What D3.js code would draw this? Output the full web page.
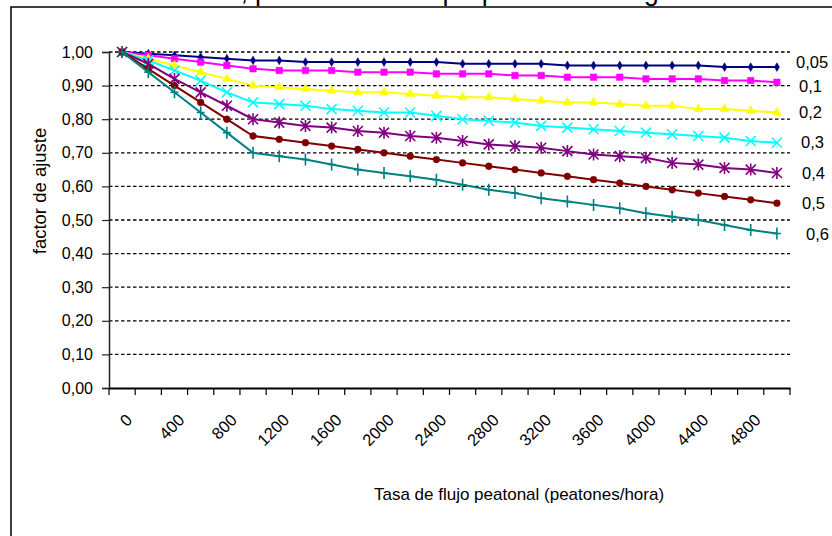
<!DOCTYPE html>
<html><head><meta charset="utf-8">
<script src="https://cdn.jsdelivr.net/npm/d3@7"></script>
<style>body{margin:0;background:#fff} text{font-family:Arial,"Liberation Sans",sans-serif;fill:#000}</style>
</head><body><svg id="c" width="832" height="536"></svg>
<script>
// ---- data ----
const categories = [0,200,400,600,800,1000,1200,1400,1600,1800,2000,2200,2400,2600,2800,3000,3200,3400,3600,3800,4000,4200,4400,4600,4800,5000];
const xTickLabels = ["0","400","800","1200","1600","2000","2400","2800","3200","3600","4000","4400","4800"];
const yTicks = [0,0.1,0.2,0.3,0.4,0.5,0.6,0.7,0.8,0.9,1.0];
const seriesNames = ["0,05","0,1","0,2","0,3","0,4","0,5","0,6"];
const s005 = [1.00,0.995,0.99,0.985,0.98,0.975,0.975,0.97,0.97,0.97,0.97,0.97,0.97,0.965,0.965,0.965,0.965,0.96,0.96,0.96,0.96,0.96,0.96,0.955,0.955,0.955];
const s01  = [1.00,0.99,0.98,0.97,0.96,0.95,0.945,0.945,0.945,0.94,0.94,0.94,0.935,0.935,0.935,0.93,0.93,0.925,0.925,0.925,0.92,0.92,0.92,0.915,0.915,0.91];
const s02  = [1.00,0.98,0.96,0.94,0.92,0.90,0.895,0.89,0.885,0.88,0.88,0.875,0.87,0.865,0.865,0.86,0.855,0.85,0.85,0.845,0.84,0.84,0.83,0.83,0.825,0.82];
const s03  = [1.00,0.975,0.945,0.915,0.88,0.85,0.845,0.84,0.83,0.825,0.82,0.82,0.81,0.80,0.795,0.79,0.78,0.775,0.77,0.765,0.76,0.755,0.75,0.745,0.735,0.73];
const s04  = [1.00,0.965,0.92,0.88,0.84,0.80,0.79,0.78,0.775,0.765,0.76,0.75,0.745,0.735,0.725,0.72,0.715,0.705,0.695,0.69,0.685,0.67,0.665,0.655,0.65,0.64];
const s05  = [1.00,0.95,0.90,0.85,0.80,0.75,0.74,0.73,0.72,0.71,0.70,0.69,0.68,0.67,0.66,0.65,0.64,0.63,0.62,0.61,0.60,0.59,0.58,0.57,0.56,0.55];
const s06  = [1.00,0.94,0.88,0.82,0.76,0.70,0.69,0.68,0.665,0.65,0.64,0.63,0.62,0.605,0.59,0.58,0.565,0.555,0.545,0.535,0.52,0.51,0.50,0.485,0.47,0.46];
const seriesValues = [s005,s01,s02,s03,s04,s05,s06];
const xTitle = "Tasa de flujo peatonal (peatones/hora)";
const yTitle = "factor de ajuste";
const titleA = "Factor de reducción,";
const titleB = "para diferentes proporciones de giro";

// ---- styles ----
const colors = ["#000080","#FF00FF","#FFFF00","#00FFFF","#800080","#800000","#008080"];
const markers = ["diamond","square","triangle","x","star","circle","plus"];
const labelDy = [-5,4,0,0,0,0,1];
const labelDx = [0,3,3,5,6,6,10];

const svg = d3.select("#c");
const L = 109, R = 790, T = 52, B = 388;
const x = d3.scaleBand().domain(categories).range([L, R]);
const cx = d => x(d) + x.bandwidth()/2;
const y = d3.scaleLinear().domain([0,1]).range([B, T]);

// frame
svg.append("rect").attr("x",11).attr("y",7).attr("width",900).attr("height",600)
  .attr("fill","none").attr("stroke","#000").attr("stroke-width",1.5);

// title (clipped at top, as in the reference)
svg.append("text").attr("x",248).attr("y",0).attr("text-anchor","end").style("font-size","27px").text(titleA);
svg.append("text").attr("x",255).attr("y",0).style("font-size","27px").text(titleB);

// gridlines
svg.append("g").selectAll("line").data(yTicks.filter(v=>v>0)).join("line")
  .attr("x1",L).attr("x2",R).attr("y1",d=>y(d)).attr("y2",d=>y(d))
  .attr("stroke","#000").attr("stroke-width",1.3).attr("stroke-dasharray","3.5,2.5");

// y axis
const yAxis = svg.append("g").attr("transform",`translate(${L},0)`)
  .call(d3.axisLeft(y).tickValues(yTicks).tickSize(7).tickPadding(9).tickFormat(d=>d3.format(".2f")(d).replace(".",",")));
yAxis.select(".domain").attr("stroke","#222").attr("stroke-width",1.5);
yAxis.selectAll(".tick line").attr("stroke","#222").attr("stroke-width",1.2);
yAxis.selectAll("text").style("font-size","16px").style("font-family","Arial,'Liberation Sans',sans-serif");

// x axis
const xAxis = svg.append("g").attr("transform",`translate(0,${B})`)
  .call(d3.axisBottom(x).tickSize(0).tickValues(categories.filter((c,i)=>i%2===0)).tickFormat((d,i)=>xTickLabels[i]));
xAxis.select(".domain").attr("stroke","#000").attr("stroke-width",1.8);
xAxis.selectAll(".tick text")
  .attr("text-anchor","end").attr("dy","0.35em").attr("y",0)
  .attr("transform","translate(7,29) rotate(-45)")
  .style("font-size","16.5px").style("font-family","Arial,'Liberation Sans',sans-serif");
// boundary ticks
const edges = categories.map(c=>x(c)).concat([R]);
svg.append("g").selectAll("line").data(edges).join("line")
  .attr("x1",d=>d).attr("x2",d=>d).attr("y1",B).attr("y2",B+7)
  .attr("stroke","#000").attr("stroke-width",1.2);

// axis titles
svg.append("text").attr("x",519).attr("y",500).attr("text-anchor","middle").style("font-size","17px").text(xTitle);
svg.append("text").attr("transform","translate(46,191) rotate(-90)").attr("text-anchor","middle").style("font-size","18.5px").text(yTitle);

// series
const line = d3.line().x((d,i)=>cx(categories[i])).y(d=>y(d));
function markerPath(type){
  switch(type){
    case "diamond": return d3.symbol(d3.symbolDiamond,22)();
    case "square": return d3.symbol(d3.symbolSquare,42)();
    case "triangle": return d3.symbol(d3.symbolTriangle,34)();
    case "circle": return d3.symbol(d3.symbolCircle,36)();
    case "x": return "M-5,-5L5,5M-5,5L5,-5";
    case "star": return "M-5,-5L5,5M-5,5L5,-5M0,-6L0,6";
    case "plus": return "M-4,0L4,0M0,-6L0,6";
  }
}
seriesValues.forEach((vals,si)=>{
  const g = svg.append("g");
  g.append("path").datum(vals).attr("d",line).attr("fill","none").attr("stroke",colors[si]).attr("stroke-width",2);
  const filled = ["diamond","square","triangle","circle"].includes(markers[si]);
  g.selectAll("path.m").data(vals).join("path").attr("class","m")
    .attr("transform",(d,i)=>`translate(${cx(categories[i])},${y(d)})`)
    .attr("d",markerPath(markers[si]))
    .attr("fill",filled?colors[si]:"none")
    .attr("stroke",colors[si]).attr("stroke-width",filled?0.5:1.6);
  // series label
  svg.append("text").attr("x",796+labelDx[si]).attr("y",y(vals[vals.length-1])+labelDy[si]).attr("dy","0.35em")
    .style("font-size","16.5px").text(seriesNames[si]);
});
</script></body></html>
